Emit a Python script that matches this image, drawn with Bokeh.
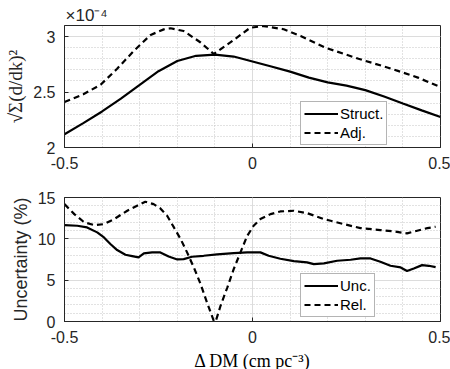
from bokeh.plotting import figure
from bokeh.layouts import column
from bokeh.models import Range1d, SingleIntervalTicker
from bokeh.embed import file_html
from bokeh.resources import INLINE

# ---------------- data ----------------
# top panel (values in units of 1e-4)
struct_x = [-0.5, -0.45, -0.4, -0.35, -0.3, -0.25, -0.2, -0.15, -0.1, -0.05, 0.0,
            0.05, 0.1, 0.15, 0.2, 0.25, 0.3, 0.35, 0.4, 0.45, 0.5]
struct_e4 = [2.12, 2.22, 2.325, 2.44, 2.565, 2.688, 2.78, 2.827, 2.837, 2.82, 2.775,
             2.73, 2.684, 2.63, 2.587, 2.558, 2.517, 2.46, 2.397, 2.335, 2.275]

adj_x = [-0.5, -0.45, -0.404, -0.36, -0.316, -0.271, -0.236, -0.218, -0.183, -0.138,
         -0.103, -0.059, -0.006, 0.03, 0.083, 0.128, 0.194, 0.282, 0.37, 0.44, 0.5]
adj_e4 = [2.41, 2.48, 2.566, 2.71, 2.87, 3.015, 3.065, 3.075, 3.05, 2.947,
          2.843, 2.947, 3.08, 3.095, 3.066, 3.006, 2.90, 2.80, 2.71, 2.63, 2.545]

# bottom panel (%)
unc_x = [-0.5, -0.466, -0.44, -0.413, -0.395, -0.378, -0.36, -0.338, -0.32, -0.303,
         -0.289, -0.267, -0.245, -0.223, -0.2, -0.183, -0.161, -0.13, -0.094, -0.05,
         -0.014, 0.021, 0.043, 0.074, 0.11, 0.145, 0.163, 0.19, 0.225, 0.261,
         0.287, 0.314, 0.34, 0.367, 0.394, 0.411, 0.429, 0.451, 0.469, 0.487]
unc_pct = [11.66, 11.58, 11.38, 10.78, 10.17, 9.37, 8.64, 8.07, 7.91, 7.75,
           8.23, 8.36, 8.36, 7.87, 7.51, 7.55, 7.83, 7.95, 8.11, 8.27,
           8.36, 8.36, 7.95, 7.59, 7.31, 7.15, 6.94, 7.03, 7.35, 7.47,
           7.63, 7.63, 7.23, 6.74, 6.54, 6.10, 6.42, 6.82, 6.74, 6.58]

rel_x = [-0.5, -0.474, -0.447, -0.42, -0.395, -0.368, -0.333, -0.307, -0.285, -0.263,
         -0.245, -0.227, -0.209, -0.191, -0.174, -0.156, -0.138, -0.121, -0.103, -0.098,
         -0.085, -0.067, -0.05, -0.032, -0.014, 0.003, 0.021, 0.048, 0.074, 0.11,
         0.145, 0.19, 0.243, 0.287, 0.34, 0.376, 0.411, 0.438, 0.465, 0.487]
rel_pct = [14.2, 12.99, 11.98, 11.66, 11.78, 12.39, 13.40, 14.0, 14.49, 14.2,
           13.68, 12.79, 11.38, 9.96, 8.36, 6.54, 4.52, 2.30, 0.08, 0.0,
           1.90, 4.11, 6.33, 8.36, 10.37, 11.58, 12.39, 12.99, 13.31, 13.40,
           13.11, 12.39, 11.78, 11.30, 11.06, 10.90, 10.66, 10.98, 11.30, 11.46]

x_ticks = [-0.5, 0.0, 0.5]
x_tick_labels = ["-0.5", "0", "0.5"]
top_y_ticks = [2.0, 2.5, 3.0]
top_y_tick_labels = ["2", "2.5", "3"]

# ---------------- style ----------------
DARK = "#262626"
SANS = "Liberation Sans"
SERIF = "Liberation Serif"


def style(p, xtk, ytk):
    p.outline_line_color = DARK
    p.outline_line_width = 1
    for ax in (p.below[0], p.left[0]):
        ax.axis_line_color = DARK
        ax.major_tick_line_color = DARK
        ax.major_tick_in = 4
        ax.major_tick_out = 0
        ax.minor_tick_line_color = None
        ax.major_label_text_color = DARK
        ax.major_label_text_font = SANS
        ax.major_label_text_font_size = "16px"
        ax.major_label_standoff = 5
        ax.axis_label_standoff = 4
        ax.axis_label_text_font_style = "normal"
        ax.axis_label_text_color = DARK
    p.below[0].major_label_overrides = dict(zip(x_ticks, x_tick_labels))
    for g in (p.xgrid[0], p.ygrid[0]):
        g.grid_line_color = "#dcdcdc"
        g.minor_grid_line_color = "#c4c4c4"
        g.minor_grid_line_dash = "1 2"
    p.xgrid[0].ticker = xtk
    p.ygrid[0].ticker = ytk


def style_legend(p, loc):
    lg = p.legend[0]
    lg.location = loc
    lg.border_line_color = "#6a6a6a"
    lg.border_line_width = 1
    lg.background_fill_color = "white"
    lg.background_fill_alpha = 1
    lg.padding = 3
    lg.spacing = 2
    lg.margin = 0
    lg.glyph_width = 34
    lg.glyph_height = 17
    lg.label_height = 17
    lg.label_standoff = 2
    lg.label_text_font = SANS
    lg.label_text_font_size = "15px"
    lg.label_text_color = "black"


# ---------------- top ----------------
p1 = figure(output_backend="svg", toolbar_location=None,
            frame_width=376, frame_height=122,
            x_range=Range1d(-0.5, 0.5), y_range=Range1d(2.0, 3.1),
            min_border_left=64, min_border_right=10, min_border_top=25,
            min_border_bottom=30, title="×10⁻⁴")
p1.title.align = "left"
p1.title.text_font = SANS
p1.title.text_font_size = "17px"
p1.title.text_font_style = "normal"
p1.title.text_color = DARK
p1.title.standoff = 2
p1.title.offset = 1
xt1 = SingleIntervalTicker(interval=0.5, num_minor_ticks=5)
yt1 = SingleIntervalTicker(interval=0.5, num_minor_ticks=5)
p1.xaxis.ticker = xt1
p1.yaxis.ticker = yt1
p1.line(struct_x, struct_e4, line_color="black", line_width=2.2, legend_label="Struct.")
p1.line(adj_x, adj_e4, line_color="black", line_width=2.2, line_dash="6 4", legend_label="Adj.")
style(p1, xt1, yt1)
p1.left[0].major_label_overrides = dict(zip(top_y_ticks, top_y_tick_labels))
p1.left[0].axis_label = "√Σ(d/dk)²"
p1.left[0].axis_label_text_font = SERIF
p1.left[0].axis_label_text_font_size = "19px"
style_legend(p1, (236, 2))

# ---------------- bottom ----------------
p2 = figure(output_backend="svg", toolbar_location=None,
            frame_width=376, frame_height=124,
            x_range=Range1d(-0.5, 0.5), y_range=Range1d(0, 15),
            min_border_left=64, min_border_right=10, min_border_top=20,
            min_border_bottom=48)
xt2 = SingleIntervalTicker(interval=0.5, num_minor_ticks=5)
yt2 = SingleIntervalTicker(interval=5, num_minor_ticks=5)
p2.xaxis.ticker = xt2
p2.yaxis.ticker = yt2
p2.line(unc_x, unc_pct, line_color="black", line_width=2.2, legend_label="Unc.")
p2.line(rel_x, rel_pct, line_color="black", line_width=2.2, line_dash="6 4", legend_label="Rel.")
style(p2, xt2, yt2)
p2.left[0].axis_label = "Uncertainty (%)"
p2.left[0].axis_label_text_font = SANS
p2.left[0].axis_label_text_font_size = "18px"
p2.below[0].axis_label = "Δ DM (cm pc⁻³)"
p2.below[0].axis_label_text_font = SERIF
p2.below[0].axis_label_text_font_size = "18px"
p2.below[0].axis_label_text_color = "black"
p2.below[0].axis_label_standoff = 5
style_legend(p2, (236, 4))

layout = column(p1, p2, spacing=0)
open("out.html", "w").write(file_html(layout, INLINE))
